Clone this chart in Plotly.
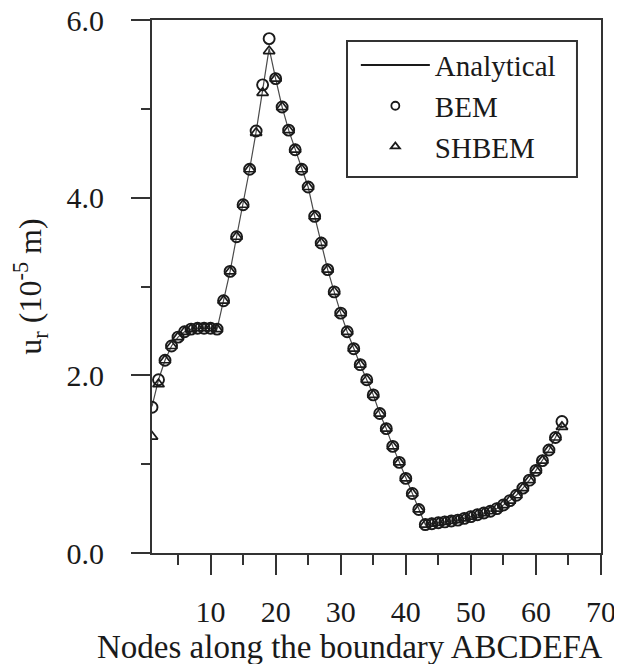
import plotly.graph_objects as go

nodes = list(range(1, 65))

bem = [1.64, 1.95, 2.17, 2.33, 2.43, 2.49, 2.52, 2.53, 2.53, 2.53,
       2.52, 2.84, 3.17, 3.56, 3.92, 4.32, 4.75, 5.27, 5.79, 5.34,
       5.02, 4.76, 4.54, 4.32, 4.12, 3.79, 3.49, 3.19, 2.94, 2.70,
       2.49, 2.30, 2.12, 1.95, 1.78, 1.57, 1.40, 1.20, 1.02, 0.84,
       0.67, 0.49, 0.32, 0.33, 0.34, 0.35, 0.36, 0.37, 0.39, 0.41,
       0.43, 0.45, 0.47, 0.50, 0.54, 0.59, 0.65, 0.73, 0.82, 0.93,
       1.04, 1.16, 1.30, 1.48]

shbem = [1.31, 1.90, 2.17, 2.33, 2.43, 2.49, 2.52, 2.53, 2.53, 2.53,
         2.52, 2.84, 3.17, 3.56, 3.92, 4.32, 4.73, 5.18, 5.65, 5.34,
         5.02, 4.76, 4.54, 4.32, 4.12, 3.79, 3.49, 3.19, 2.94, 2.70,
         2.49, 2.30, 2.12, 1.95, 1.78, 1.57, 1.40, 1.20, 1.02, 0.84,
         0.67, 0.49, 0.32, 0.33, 0.34, 0.35, 0.36, 0.37, 0.39, 0.41,
         0.43, 0.45, 0.47, 0.50, 0.54, 0.59, 0.65, 0.73, 0.82, 0.93,
         1.04, 1.16, 1.30, 1.42]

analytical = [1.65, 1.95, 2.17, 2.33, 2.43, 2.49, 2.52, 2.53, 2.53, 2.53,
              2.52, 2.84, 3.17, 3.56, 3.92, 4.32, 4.74, 5.20, 5.68, 5.34,
              5.02, 4.76, 4.54, 4.32, 4.12, 3.79, 3.49, 3.19, 2.94, 2.70,
              2.49, 2.30, 2.12, 1.95, 1.78, 1.57, 1.40, 1.20, 1.02, 0.84,
              0.67, 0.49, 0.32, 0.33, 0.34, 0.35, 0.36, 0.37, 0.39, 0.41,
              0.43, 0.45, 0.47, 0.50, 0.54, 0.59, 0.65, 0.73, 0.82, 0.93,
              1.04, 1.16, 1.30, 1.45]

x_ticks = [10, 20, 30, 40, 50, 60, 70]
x_minor = [5, 15, 25, 35, 45, 55, 65]
y_ticks = [0, 2, 4, 6]
y_minor = [1, 3, 5]
y_tick_labels = ["0.0", "2.0", "4.0", "6.0"]
x_title = "Nodes along the boundary ABCDEFA"
y_title = "u<sub>r</sub> (10<sup>-5</sup> m)"

FONT = "Liberation Serif"
INK = "#1a1a1a"
AX = "#333333"

fig = go.Figure()

fig.add_trace(go.Scatter(x=nodes, y=analytical, mode="lines", name="Analytical",
                         line=dict(color="#4a4a4a", width=1.2), showlegend=False))
fig.add_trace(go.Scatter(x=nodes, y=bem, mode="markers", name="BEM",
                         marker=dict(symbol="circle-open", size=11, color=INK,
                                     line=dict(width=1.9, color=INK)),
                         showlegend=False))
fig.add_trace(go.Scatter(x=nodes, y=shbem, mode="markers", name="SHBEM",
                         marker=dict(symbol="triangle-up-open", size=10, color=INK,
                                     line=dict(width=1.7, color=INK)),
                         showlegend=False))

# legend entries (smaller symbols, as in the reference)
fig.add_trace(go.Scatter(x=[None], y=[None], mode="lines", name="Analytical",
                         line=dict(color=INK, width=2)))
fig.add_trace(go.Scatter(x=[None], y=[None], mode="markers", name="BEM",
                         marker=dict(symbol="circle-open", size=8, color=INK,
                                     line=dict(width=1.8, color=INK))))
fig.add_trace(go.Scatter(x=[None], y=[None], mode="markers", name="SHBEM",
                         marker=dict(symbol="triangle-up-open", size=8, color=INK,
                                     line=dict(width=1.8, color=INK))))

fig.update_layout(
    width=614, height=656,
    margin=dict(l=144, r=21, t=12, b=111),
    paper_bgcolor="white", plot_bgcolor="white",
    font=dict(family=FONT, size=30, color=INK),
    showlegend=True,
    legend=dict(x=0.454, y=0.963, xanchor="left", yanchor="top",
                borderwidth=0, bgcolor="rgba(0,0,0,0)",
                font=dict(family=FONT, size=29, color=INK),
                itemwidth=69, tracegroupgap=0),
    shapes=[dict(type="rect", xref="paper", yref="paper",
                 x0=0.4343, x1=0.9465, y0=0.7054, y1=0.9606,
                 line=dict(color=AX, width=2), fillcolor="rgba(0,0,0,0)",
                 layer="above")],
    annotations=[dict(text=x_title, xref="paper", yref="paper",
                      x=0.441, y=0, yshift=-94, xanchor="center", yanchor="middle",
                      showarrow=False, font=dict(family=FONT, size=33, color=INK))],
)

fig.update_xaxes(
    range=[1, 70], tickmode="array", tickvals=x_ticks,
    ticks="outside", ticklen=20, tickwidth=2, tickcolor=AX,
    showline=True, linewidth=2, linecolor=AX, mirror=True,
    showgrid=False, zeroline=False, automargin=False,
    ticklabelstandoff=11, ticklabeloverflow="allow",
    minor=dict(tickmode="array", tickvals=x_minor,
               ticks="outside", ticklen=10, tickwidth=2, tickcolor=AX,
               showgrid=False),
    tickfont=dict(family=FONT, size=30, color=INK),
)

fig.update_yaxes(
    range=[0, 6], tickmode="array", tickvals=y_ticks, ticktext=y_tick_labels,
    ticks="outside", ticklen=19, tickwidth=2, tickcolor=AX,
    showline=True, linewidth=2, linecolor=AX, mirror=True,
    showgrid=False, zeroline=False, automargin=False,
    ticklabelstandoff=21, ticklabeloverflow="allow",
    minor=dict(tickmode="array", tickvals=y_minor,
               ticks="outside", ticklen=9, tickwidth=2, tickcolor=AX,
               showgrid=False),
    title=dict(text=y_title, standoff=30,
               font=dict(family=FONT, size=32, color=INK)),
    tickfont=dict(family=FONT, size=30, color=INK),
)

fig.write_html("out.html")
